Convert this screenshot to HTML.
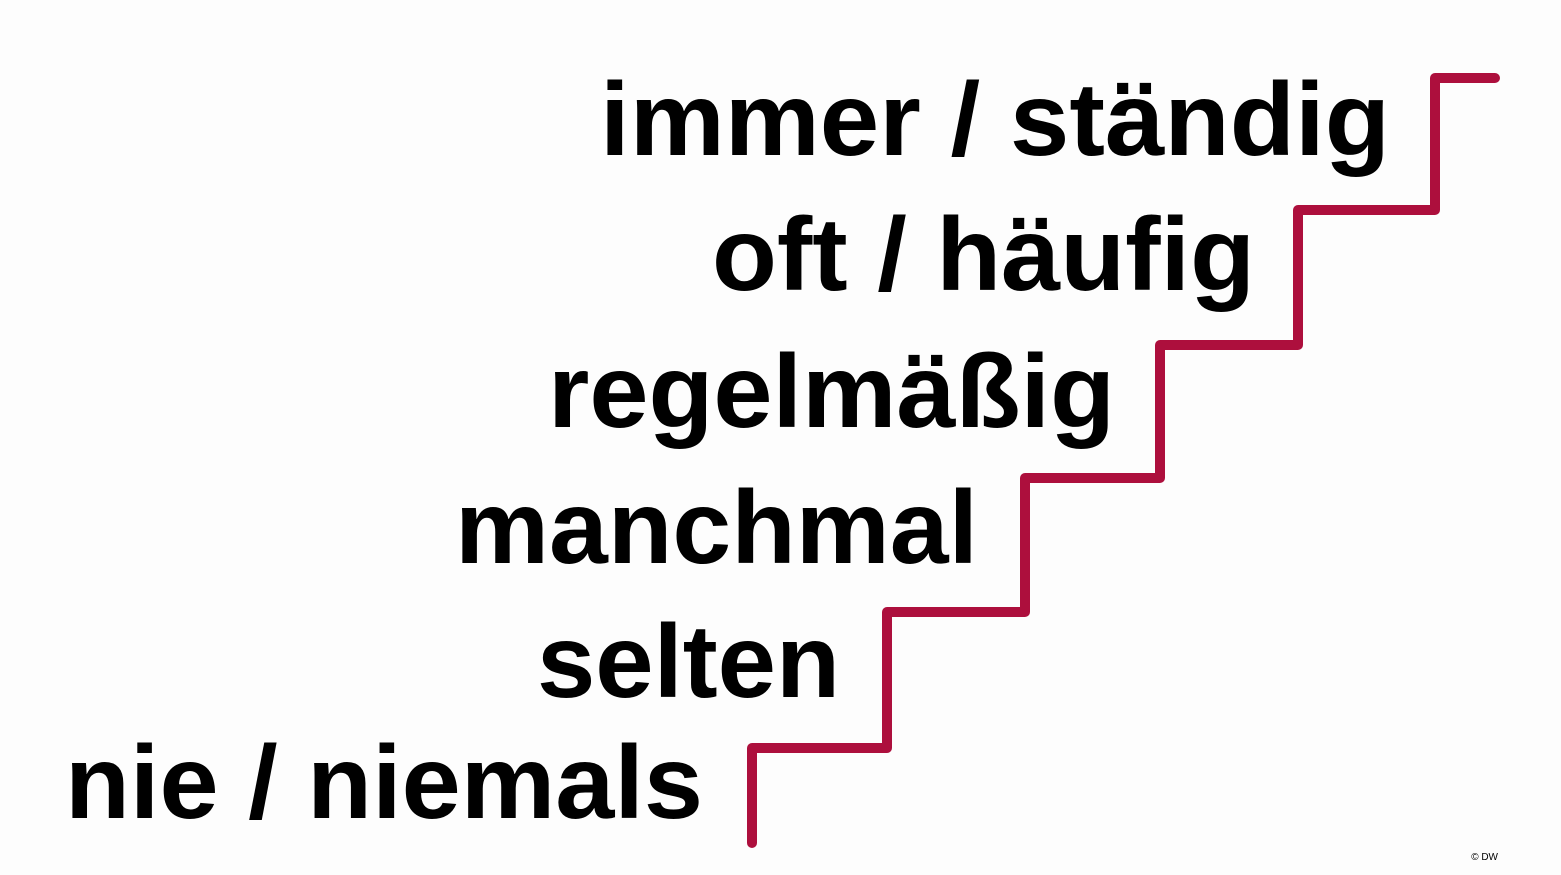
<!DOCTYPE html>
<html><head><meta charset="utf-8"><style>
html,body{margin:0;padding:0;background:#fff;}
svg{display:block;}
text{font-family:"Liberation Sans",Arial,sans-serif;font-weight:bold;fill:#000;}
</style></head><body>
<svg id="chart" width="1561" height="875" viewBox="0 0 1561 875" xmlns="http://www.w3.org/2000/svg">
<rect x="0" y="0" width="1561" height="875" fill="#fdfdfd"/>
<g id="labels"></g>
<path id="stairs" fill="none" stroke="#ad0f3d" stroke-width="10" stroke-linecap="round" stroke-linejoin="round"/>
<text x="1498" y="860" text-anchor="end" style="font-size:10px;font-weight:normal" fill="#333">© DW</text>
</svg>
<script>
const labels=["nie / niemals","selten","manchmal","regelmäßig","oft / häufig","immer / ständig"];
const labelStart=[65,537,455,548,712,600];
const labelEnd=[703,840,978,1115,1255,1390];
const baselines=[818,697,563,427,290,155];
const stepX=[752,887,1025,1160,1298,1435];
const stepY=[748,612,478,345,210,78];
const ns="http://www.w3.org/2000/svg";
const g=document.getElementById('labels');
labels.forEach((t,i)=>{
  const el=document.createElementNS(ns,'text');
  
  
  el.setAttribute('x',labelStart[i]);
  el.setAttribute('y',baselines[i]);
  el.setAttribute('font-size','104');
  el.setAttribute('textLength',labelEnd[i]-labelStart[i]);
  el.setAttribute('lengthAdjust','spacingAndGlyphs');
  el.textContent=t;
  g.appendChild(el);
});
let d='M'+stepX[0]+' 843';
for(let i=0;i<stepX.length;i++){
  d+=' L'+stepX[i]+' '+stepY[i];
  const nx=i<stepX.length-1?stepX[i+1]:1495;
  d+=' L'+nx+' '+stepY[i];
}
document.getElementById('stairs').setAttribute('d',d);
</script>
</body></html>
